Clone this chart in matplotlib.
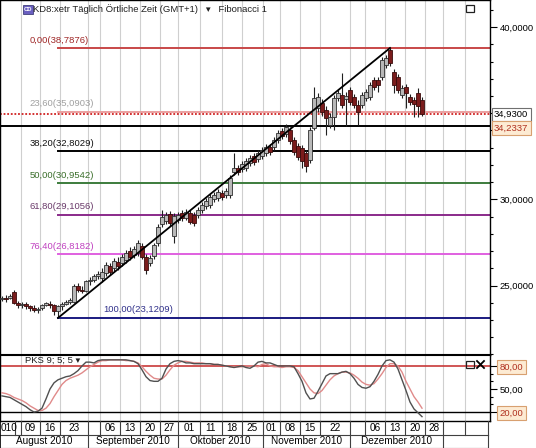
import matplotlib
matplotlib.use("Agg")
import matplotlib.pyplot as plt
from matplotlib.patches import Rectangle
from matplotlib.ticker import MultipleLocator, FixedLocator
import matplotlib.transforms as mtransforms

plt.rcParams['font.family'] = ['Liberation Sans', 'DejaVu Sans']

# ---------------- data ----------------
opens = [24.20, 24.30, 24.25, 24.65, 24.00, 23.85, 23.95, 23.80, 23.70, 23.60,
         23.70, 23.90, 23.95, 23.85, 23.50, 23.80, 23.95, 24.05, 24.05, 24.95,
         24.75, 24.70, 25.25, 25.35, 25.55, 25.45, 25.73, 26.14, 26.02, 26.37,
         26.31, 26.48, 27.01, 26.77, 26.89, 27.30, 26.66, 26.31, 26.72, 27.47,
         28.57, 28.75, 29.15, 27.88, 28.81, 29.21, 28.92, 29.21, 29.10, 29.10,
         29.39, 29.62, 29.68, 30.02, 30.08, 30.37, 30.26, 30.26, 31.59, 31.82,
         31.77, 31.82, 32.11, 32.52, 32.35, 32.52, 32.69, 33.04, 33.04, 33.45,
         33.97, 33.80, 34.03, 33.45, 33.10, 32.98, 32.69, 32.29, 34.15, 35.31,
         35.60, 35.19, 34.32, 34.78, 35.89, 36.06, 35.83, 36.35, 35.94, 35.48,
         35.48, 35.89, 35.94, 36.93, 36.93, 37.11, 37.80, 38.67, 37.40, 37.11,
         36.06, 36.52, 35.94, 35.77, 36.18, 35.77]
highs = [24.40, 24.45, 24.50, 24.75, 24.10, 24.05, 24.05, 23.90, 23.85, 23.75,
         23.95, 24.05, 24.10, 23.95, 23.90, 24.05, 24.15, 24.30, 25.10, 25.15,
         24.95, 25.35, 25.50, 25.70, 25.85, 26.02, 26.37, 26.31, 26.60, 26.66,
         26.83, 27.06, 27.24, 27.30, 27.64, 27.47, 26.83, 26.77, 27.47, 28.57,
         29.39, 29.27, 29.33, 29.21, 29.27, 29.39, 29.44, 29.39, 29.27, 29.56,
         29.85, 30.08, 30.31, 30.43, 30.61, 30.55, 30.66, 31.42, 32.69, 32.00,
         32.23, 32.40, 32.58, 32.69, 32.87, 33.04, 33.22, 33.22, 33.62, 34.03,
         34.15, 34.38, 34.20, 33.62, 33.27, 33.16, 32.87, 34.20, 36.52, 36.18,
         35.83, 35.42, 35.02, 36.06, 36.35, 37.34, 36.23, 36.52, 36.12, 35.77,
         36.23, 36.41, 36.82, 37.11, 37.11, 38.27, 38.38, 38.7876, 37.57, 37.28,
         36.64, 36.70, 36.12, 35.94, 36.47, 35.94]
lows = [24.10, 24.05, 24.20, 23.95, 23.70, 23.70, 23.65, 23.55, 23.45, 23.40,
        23.60, 23.80, 23.70, 23.30, 23.1209, 23.60, 23.85, 23.95, 24.00, 24.60,
        24.55, 24.60, 25.05, 25.20, 25.40, 25.20, 25.56, 25.61, 25.85, 25.90,
        26.14, 26.31, 26.48, 26.60, 26.72, 26.54, 25.67, 26.14, 26.54, 27.30,
        28.40, 28.57, 28.46, 27.47, 28.63, 28.75, 28.81, 28.57, 28.46, 28.92,
        29.21, 29.44, 29.50, 29.85, 29.91, 29.97, 30.08, 30.08, 31.42, 31.42,
        31.59, 31.65, 31.94, 32.00, 32.17, 32.35, 32.52, 32.58, 32.87, 33.27,
        33.51, 33.62, 33.22, 32.58, 32.29, 31.82, 31.59, 32.11, 34.03, 35.07,
        34.84, 33.74, 34.15, 34.03, 35.71, 35.31, 34.26, 35.48, 35.31, 34.32,
        35.31, 35.71, 35.77, 36.35, 36.23, 36.93, 37.63, 37.74, 36.18, 36.18,
        35.89, 35.31, 35.48, 34.78, 34.78, 34.84]
closes = [24.30, 24.20, 24.40, 24.00, 23.85, 23.95, 23.80, 23.70, 23.60, 23.65,
          23.90, 23.95, 23.85, 23.50, 23.80, 23.95, 24.05, 24.15, 24.95, 24.75,
          24.70, 25.25, 25.35, 25.55, 25.70, 25.79, 26.19, 25.79, 26.43, 26.14,
          26.66, 26.89, 26.66, 27.12, 27.47, 26.66, 25.90, 26.60, 27.35, 28.40,
          28.98, 29.10, 28.63, 29.04, 29.10, 28.92, 29.27, 28.69, 28.63, 29.39,
          29.68, 29.91, 30.14, 30.26, 30.43, 30.14, 30.49, 31.24, 31.82, 31.59,
          32.06, 32.23, 32.40, 32.17, 32.69, 32.87, 33.04, 32.75, 33.45, 33.86,
          33.68, 34.20, 33.39, 32.75, 32.46, 32.23, 31.94, 34.03, 35.89, 35.94,
          35.07, 34.73, 34.78, 35.89, 36.18, 35.48, 36.00, 35.65, 35.48, 35.07,
          36.06, 36.23, 36.64, 36.52, 36.64, 38.09, 38.21, 37.92, 36.64, 36.35,
          36.47, 36.18, 35.65, 35.54, 35.42, 34.93]

stoch_k = [41, 40, 39, 36, 33, 30, 27, 23, 20, 21,
           25, 37, 50, 58, 62, 64, 66, 67, 70, 74,
           80, 85, 85, 84, 87, 88, 88, 88, 88, 88,
           88, 88, 87, 86, 83, 75, 66, 61, 60, 60,
           64, 76, 83, 86, 87, 86, 84, 84, 83, 83,
           83, 83, 83, 82, 82, 81, 80, 79, 78, 79,
           80, 78, 77, 80, 85, 86, 84, 84, 82, 80,
           80, 80, 80, 79, 70, 60, 45, 37, 38, 47,
           57, 67, 70, 70, 70, 72, 73, 70, 64, 56,
           52, 51, 53, 60, 69, 80, 87, 88, 85, 76,
           62, 48, 33, 24, 19, 14]
stoch_d = [45, 44, 42, 39, 37, 35, 32, 28, 25, 22,
           22, 25, 31, 40, 48, 56, 61, 64, 66, 68,
           71, 75, 79, 82, 85, 87, 87, 88, 88, 88,
           88, 87, 87, 86, 84, 79, 73, 68, 64, 63,
           63, 68, 75, 81, 84, 86, 86, 85, 84, 84,
           84, 83, 83, 82, 82, 81, 80, 79, 79, 79,
           79, 80, 80, 80, 79, 82, 83, 80, 79, 79,
           78, 79, 79, 78, 74, 66, 58, 50, 45, 44,
           48, 55, 62, 67, 70, 72, 72, 71, 68, 64,
           59, 56, 55, 57, 63, 70, 78, 83, 83, 80,
           72, 60, 50, 40, 33, 25]

swing_low, swing_high = 23.1209, 38.7876
swing_low_idx, swing_high_idx = 14, 97
fib_pcts = [0.0, 23.6, 38.2, 50.0, 61.8, 76.4, 100.0]
fib_line_colors = ['#c84848', '#eaa0a0', '#000000', '#3c7c3c', '#8a2a8a', '#e060e0', '#1a1a80']
fib_text_colors = ['#a02828', '#a0a0a0', '#101010', '#3a6e2a', '#6a3a6a', '#c040c0', '#30308a']
last_price = 34.93
support_level = 34.2337

day_labels = ["010", "", "09", "16", "23", "", "06", "13", "20", "27", "01", "11", "18", "25",
              "01", "08", "15", "22", "", "06", "13", "20", "28", "", ""]
day_cell_edges = [-0.5, 3.25, 4.75, 9.5, 14.5, 21.5, 24.5, 29.5, 34.5, 39.5, 44, 49.5, 55, 60,
                  65.25, 69.5, 74.5, 79.5, 87, 90.75, 95.75, 100.75, 105.75, 110.25, 115.75, 121.5]
month_labels = ["August 2010", "September 2010", "Oktober 2010", "November 2010", "Dezember 2010", ""]
month_edges = [-0.5, 21.5, 44, 65.25, 87, 110.25, 121.5]

title_text = "KD8:xetr Täglich Örtliche Zeit (GMT+1)"
study_text = "Fibonacci 1"
osc_text = "PKS 9; 5; 5"


def de(v, nd):
    return f"{v:.{nd}f}".replace('.', ',')


# ---------------- figure ----------------
W, H = 536, 448
fig = plt.figure(figsize=(W / 100, H / 100), dpi=100)
fig.patch.set_facecolor('white')

XL = (-0.5, 122.0)
ax = fig.add_axes([0, 1 - 355 / H, 490 / W, 355 / H])
ax2 = fig.add_axes([0, 1 - 421 / H, 490 / W, 66 / H])
ax3 = fig.add_axes([0, 0, 490 / W, 27 / H])

FS = 6.8
# grid lines
for a in (ax, ax2):
    a.set_xlim(*XL)
    for e in day_cell_edges[2:-1]:
        a.axvline(e, color='#cfcfcf', lw=0.8, zorder=0)

ax.set_ylim(20.97, 41.574)

# candles
n = len(closes)
for i in range(n):
    o, h, l, c = opens[i], highs[i], lows[i], closes[i]
    ax.vlines(i, l, h, color='#202020', lw=0.8, zorder=3)
    up = c >= o
    bot = min(o, c)
    hgt = max(abs(c - o), 0.06)
    ax.add_patch(Rectangle((i - 0.38, bot), 0.76, hgt,
                           facecolor='#b8b8b8' if up else '#7a1c1c',
                           edgecolor='#303030' if up else '#3a0c0c', lw=0.6, zorder=4))

# fibonacci levels
rng = swing_high - swing_low
for k, p in enumerate(fib_pcts):
    lvl = swing_high - p / 100 * rng
    ax.plot([swing_low_idx, XL[1]], [lvl, lvl], color=fib_line_colors[k], lw=1.4, zorder=2)
    tx = 25.2 if p == 100.0 else 6.8
    ax.annotate(f"{de(p, 2)}({de(lvl, 4)})", (tx, lvl), xytext=(0, 2.5), textcoords='offset points',
                fontsize=FS, color=fib_text_colors[k], va='bottom', ha='left', zorder=6)

# trend line
ax.plot([swing_low_idx, swing_high_idx], [swing_low, swing_high], color='black', lw=1.3, zorder=5)
# support line & last price
ax.axhline(support_level, color='black', lw=1.4, zorder=2)
ax.axhline(last_price, color='#d02020', lw=1.3, ls=(0, (1, 1)), zorder=2)

# axis formatting main
ax.yaxis.tick_right()
ax.set_yticks([25, 30, 40])
ax.set_yticklabels(['25,0000', '30,0000', '40,0000'], fontsize=FS)
ax.yaxis.set_minor_locator(MultipleLocator(1))
ax.tick_params(axis='y', which='major', length=5, width=0.8, pad=2)
ax.tick_params(axis='y', which='minor', length=2.5, width=0.8)
ax.set_xticks([])
for s in ax.spines.values():
    s.set_color('black'); s.set_linewidth(1.0)

trans = mtransforms.blended_transform_factory(ax.transAxes, ax.transData)
ax.text(1.008, last_price, de(last_price, 4), transform=trans, fontsize=FS, va='center', ha='left',
        color='black', clip_on=False,
        bbox=dict(boxstyle='square,pad=0.25', fc='white', ec='#707070', lw=0.8))
ax.text(1.008, support_level - 0.1, de(support_level, 4), transform=trans, fontsize=FS, va='center',
        ha='left', color='#b03020', clip_on=False,
        bbox=dict(boxstyle='square,pad=0.25', fc='#fdebd3', ec='#d8a070', lw=0.8))

# header
fig.text(33 / W, 1 - 9.5 / H, title_text + "   \u25be   " + study_text, fontsize=FS, va='center',
         ha='left', color='#202020')
fig.patches.append(Rectangle((23 / W, 1 - 14 / H), 10 / W, 9 / H, transform=fig.transFigure,
                             facecolor='#6a5fc0', edgecolor='#40407a', lw=0.6))
fig.text(28 / W, 1 - 9.5 / H, "CD", fontsize=4.2, color='white', ha='center', va='center',
         fontweight='bold')
fig.patches.append(Rectangle((466 / W, 1 - 12 / H), 8 / W, 7 / H, transform=fig.transFigure,
                             facecolor='none', edgecolor='#202020', lw=0.9))

# ---------------- oscillator ----------------
ax2.set_ylim(8.3, 94.3)
xs = list(range(n))
ax2.plot(xs, stoch_d, color='#e08a8a', lw=1.0, zorder=3)
ax2.plot(xs, stoch_k, color='#505050', lw=1.0, zorder=4)
ax2.axhline(80, color='#c83838', lw=1.2, zorder=2)
ax2.axhline(20, color='black', lw=1.0, zorder=2)
ax2.yaxis.tick_right()
ax2.set_yticks([20, 50, 80])
ax2.set_yticklabels(['20,00', '50,00', '80,00'], fontsize=FS)
ax2.yaxis.set_minor_locator(FixedLocator([30, 40, 60, 70]))
ax2.tick_params(axis='y', which='major', length=5, width=0.8, pad=2)
ax2.tick_params(axis='y', which='minor', length=2.5, width=0.8)
for lbl in ax2.get_yticklabels():
    if lbl.get_text() != '50,00':
        lbl.set_color('#b03020')
        lbl.set_bbox(dict(boxstyle='square,pad=0.25', fc='#fdebd3', ec='#d8a070', lw=0.8))
ax2.set_xticks([])
for s in ax2.spines.values():
    s.set_color('black'); s.set_linewidth(1.0)
ax2.spines['top'].set_linewidth(1.5)
ax2.text(23.0 / 4, 88, osc_text + " \u25be", fontsize=FS, va='center', ha='left', color='#202020')
fig.patches.append(Rectangle((466 / W, 1 - 368 / H), 8 / W, 7 / H, transform=fig.transFigure,
                             facecolor='none', edgecolor='#202020', lw=0.9))
fig.lines.append(plt.Line2D([477 / W, 484 / W], [1 - 361 / H, 1 - 368 / H], transform=fig.transFigure,
                            color='black', lw=1.3))
fig.lines.append(plt.Line2D([477 / W, 484 / W], [1 - 368 / H, 1 - 361 / H], transform=fig.transFigure,
                            color='black', lw=1.3))

# ---------------- date rows ----------------
ax3.set_xlim(*XL)
ax3.set_ylim(0, 27)
ax3.axis('off')
ax3.plot([XL[0], 121.5], [13.5, 13.5], color='#404040', lw=0.8, clip_on=False)
ax3.plot([XL[0], 121.5], [0.3, 0.3], color='#404040', lw=0.8, clip_on=False)
for j, lab in enumerate(day_labels):
    x0, x1 = day_cell_edges[j], day_cell_edges[j + 1]
    ax3.plot([x1, x1], [13.5, 27], color='#404040', lw=0.8, clip_on=False)
    if lab:
        if j == 0:
            ax3.text(x0 + 0.1, 20.2, lab, fontsize=7.2, ha='left', va='center', color='black')
        else:
            ax3.text((x0 + x1) / 2, 20.2, lab, fontsize=7.2, ha='center', va='center', color='black')
for j, lab in enumerate(month_labels):
    x0, x1 = month_edges[j], month_edges[j + 1]
    ax3.plot([x1, x1], [0.3, 13.5], color='#404040', lw=0.8, clip_on=False)
    if lab:
        ax3.text((x0 + x1) / 2, 6.8, lab, fontsize=7.2, ha='center', va='center', color='black')
ax3.plot([XL[0], XL[0]], [0, 27], color='black', lw=1.2, clip_on=False)

fig.savefig('out.png', dpi=100)
